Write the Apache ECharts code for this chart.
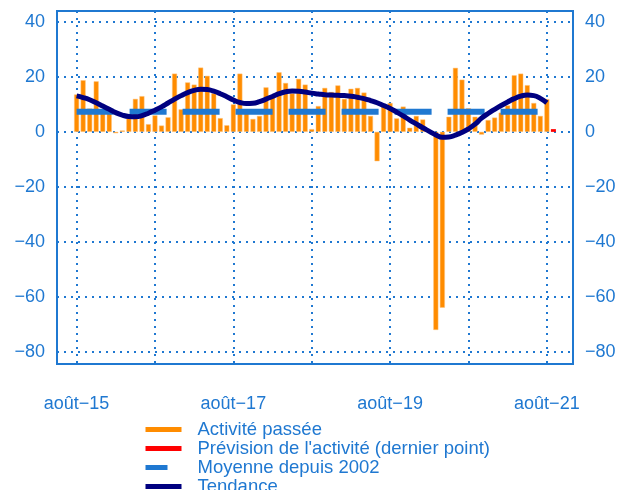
<!DOCTYPE html>
<html>
<head>
<meta charset="utf-8">
<script src="https://cdn.jsdelivr.net/npm/echarts@6/dist/echarts.min.js"></script>
<style>
  html, body { margin: 0; padding: 0; background: #fff; }
  #chart { width: 623px; height: 490px; }
</style>
</head>
<body>
<div id="chart"></div>
<script>
// mois de mai-15 a dec-21
var moisNoms = ["janv", "févr", "mars", "avr", "mai", "juin", "juil", "août", "sept", "oct", "nov", "déc"];
var mois = [];
for (var a = 15; a <= 21; a++) {
  for (var m = 0; m < 12; m++) {
    if (a === 15 && m < 4) continue;
    mois.push(moisNoms[m] + "-" + a);
  }
}

// valeurs depuis août-15 jusqu'a août-21
var activite = [
  13.6, 18.8, 8.5, 18.4, 7, 7, -0.5, 0.5, 5, 12, 13, 2.8,
  6, 2.3, 5.3, 21.2, 8.2, 18, 17.2, 23.4, 20.4, 14, 5, 2.4,
  10, 21.2, 8, 4.7, 5.8, 16.2, 12.6, 21.7, 17.8, 14, 19.3, 17.2,
  1, 9.4, 16, 14.5, 16.9, 12, 15.7, 16, 14.3, 5.8, -10.7, 10,
  10.5, 4.9, 9.2, 1.5, 5.8, 4.5, 0.5, -72.1, -64, 5.5, 23.3, 19,
  8.6, 5.5, -1, 4.3, 5.2, 7, 9.6, 20.6, 21.2, 17, 10.5, 5.8,
  11.9
];
var prevision = 1.0; // sept-21
var moyenne = 7.3;
var tendance = [
  13.1, 12.5, 11.7, 10.6, 9.4, 8.2, 7.0, 6.1, 5.6, 5.5, 5.9, 6.8,
  7.9, 9.1, 10.5, 11.9, 13.2, 14.3, 15.1, 15.5, 15.4, 14.8, 13.9, 12.8,
  11.6, 10.7, 10.3, 10.4, 11.0, 11.9, 12.9, 13.9, 14.6, 14.9, 14.8, 14.5,
  14.1, 13.8, 13.5, 13.4, 13.3, 13.2, 13.0, 12.6, 12.1, 11.4, 10.6, 9.6,
  8.5, 7.2, 5.8, 4.3, 2.9, 1.5, 0.2, -1.1, -2.0, -1.9, -1.2, -0.2,
  1.1, 2.8, 5.0, 6.7, 8.2, 9.6, 10.9, 12.1, 13.0, 13.4, 13.2, 12.2,
  10.6
];
var etiquettesX = ["août-15", "août-17", "août-19", "août-21"];

var debut = mois.indexOf("août-15");
var bleu = "#1f78d1";
var police = "'Liberation Sans', Arial, sans-serif";

function caler(valeurs) {
  var out = [];
  for (var i = 0; i < mois.length; i++) {
    var j = i - debut;
    out.push(j >= 0 && j < valeurs.length ? valeurs[j] : null);
  }
  return out;
}
var serieActivite = caler(activite);
var seriePrevision = mois.map(function (mo) { return mo === "sept-21" ? prevision : null; });
var serieMoyenne = caler(activite.map(function () { return moyenne; }));
var serieTendance = caler(tendance);

function moins(v) { return String(v).replace("-", "\u2212"); }

var yLabel = {
  color: bleu, fontSize: 18, fontFamily: police,
  showMinLabel: false, showMaxLabel: false,
  formatter: function (v) { return Math.round(v) % 20 === 0 ? moins(v) : ""; }
};

var chart = echarts.init(document.getElementById("chart"));
chart.setOption({
  animation: false,
  grid: {
    left: 57, right: 50, top: 11, bottom: 126,
    show: true, borderColor: bleu, borderWidth: 2, backgroundColor: "transparent"
  },
  legend: {
    orient: "vertical",
    left: 143, top: 420, height: 120, padding: 0, itemGap: 0,
    itemWidth: 36, itemHeight: 5,
    itemStyle: { borderWidth: 0 },
    textStyle: { color: bleu, fontSize: 18.5, fontFamily: police, lineHeight: 19, padding: [0, 0, 0, 11] },
    data: [
      { name: "Activité passée", icon: "rect" },
      { name: "Prévision de l'activité (dernier point)", icon: "rect" },
      { name: "Moyenne depuis 2002", lineStyle: { type: [22, 40], width: 5 } },
      { name: "Tendance", lineStyle: { width: 5 } }
    ]
  },
  xAxis: {
    type: "category",
    data: mois,
    boundaryGap: false,
    axisLine: { show: false },
    axisTick: { show: false },
    axisLabel: {
      color: bleu, fontSize: 18, fontFamily: police, margin: 31,
      interval: function (i, v) { return etiquettesX.indexOf(v) >= 0; },
      formatter: function (v) { return v.replace("-", "\u2212"); }
    },
    splitLine: {
      show: true,
      interval: function (i) { return (i - debut) % 12 === 0; },
      lineStyle: { color: bleu, width: 2, type: [2, 5] }
    }
  },
  yAxis: [
    {
      type: "value", min: -84.5, max: 44, splitNumber: 6,
      axisLine: { show: false }, axisTick: { show: false },
      axisLabel: Object.assign({ margin: 12 }, yLabel),
      splitLine: { show: true, lineStyle: { color: bleu, width: 2, type: [2, 5] } }
    },
    {
      type: "value", min: -84.5, max: 44, splitNumber: 6, position: "right",
      axisLine: { show: false }, axisTick: { show: false },
      axisLabel: Object.assign({ margin: 12 }, yLabel),
      splitLine: { show: false }
    }
  ],
  series: [
    {
      name: "Activité passée", type: "bar", data: serieActivite,
      barWidth: 5, barGap: "-100%",
      itemStyle: { color: "#ff8c00", borderColor: "#ffc27a", borderWidth: 0.5 }
    },
    {
      name: "Prévision de l'activité (dernier point)", type: "bar", data: seriePrevision,
      barWidth: 5, barGap: "-100%",
      itemStyle: { color: "#ff0000" }
    },
    {
      name: "Moyenne depuis 2002", type: "line", data: serieMoyenne,
      symbol: "none", color: bleu,
      lineStyle: { color: bleu, width: 6, type: [37, 16], cap: "butt" }
    },
    {
      name: "Tendance", type: "line", data: serieTendance,
      symbol: "none", smooth: true, color: "#000080",
      lineStyle: { color: "#000080", width: 5 }
    }
  ]
});
</script>
</body>
</html>
